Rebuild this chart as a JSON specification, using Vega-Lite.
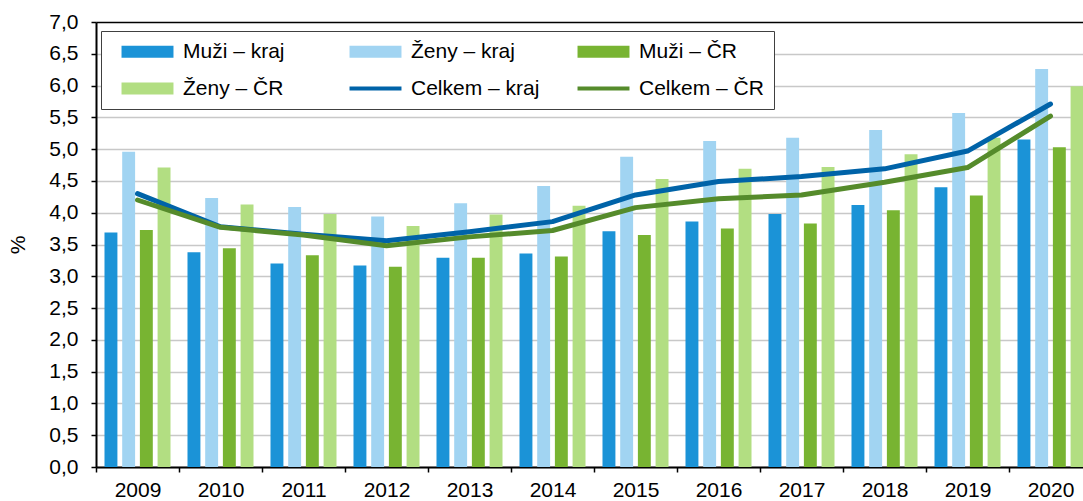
{
  "$schema": "https://vega.github.io/schema/vega-lite/v6.json",
  "width": 987,
  "height": 445,
  "autosize": {"type": "none"},
  "padding": {"left": 96, "top": 22, "right": 0, "bottom": 34},
  "background": "white",
  "config": {
    "locale": {"number": {"decimal": ",", "thousands": " ", "grouping": [3], "currency": ["", " Kč"]}},
    "font": "Liberation Sans",
    "view": {"stroke": null},
    "axis": {"labelFont": "Liberation Sans", "titleFont": "Liberation Sans", "labelColor": "black", "titleColor": "black"}
  },
  "datasets": {
    "bars": [
      {"year": "2009", "series": "Muži – kraj", "value": 3.69},
      {"year": "2009", "series": "Ženy – kraj", "value": 4.96},
      {"year": "2009", "series": "Muži – ČR", "value": 3.73},
      {"year": "2009", "series": "Ženy – ČR", "value": 4.71},
      {"year": "2010", "series": "Muži – kraj", "value": 3.38},
      {"year": "2010", "series": "Ženy – kraj", "value": 4.23},
      {"year": "2010", "series": "Muži – ČR", "value": 3.44},
      {"year": "2010", "series": "Ženy – ČR", "value": 4.13},
      {"year": "2011", "series": "Muži – kraj", "value": 3.20},
      {"year": "2011", "series": "Ženy – kraj", "value": 4.09},
      {"year": "2011", "series": "Muži – ČR", "value": 3.33},
      {"year": "2011", "series": "Ženy – ČR", "value": 3.98},
      {"year": "2012", "series": "Muži – kraj", "value": 3.17},
      {"year": "2012", "series": "Ženy – kraj", "value": 3.94},
      {"year": "2012", "series": "Muži – ČR", "value": 3.15},
      {"year": "2012", "series": "Ženy – ČR", "value": 3.79},
      {"year": "2013", "series": "Muži – kraj", "value": 3.29},
      {"year": "2013", "series": "Ženy – kraj", "value": 4.15},
      {"year": "2013", "series": "Muži – ČR", "value": 3.29},
      {"year": "2013", "series": "Ženy – ČR", "value": 3.97},
      {"year": "2014", "series": "Muži – kraj", "value": 3.36},
      {"year": "2014", "series": "Ženy – kraj", "value": 4.42},
      {"year": "2014", "series": "Muži – ČR", "value": 3.31},
      {"year": "2014", "series": "Ženy – ČR", "value": 4.11},
      {"year": "2015", "series": "Muži – kraj", "value": 3.71},
      {"year": "2015", "series": "Ženy – kraj", "value": 4.88},
      {"year": "2015", "series": "Muži – ČR", "value": 3.65},
      {"year": "2015", "series": "Ženy – ČR", "value": 4.53},
      {"year": "2016", "series": "Muži – kraj", "value": 3.86},
      {"year": "2016", "series": "Ženy – kraj", "value": 5.13},
      {"year": "2016", "series": "Muži – ČR", "value": 3.75},
      {"year": "2016", "series": "Ženy – ČR", "value": 4.69},
      {"year": "2017", "series": "Muži – kraj", "value": 3.98},
      {"year": "2017", "series": "Ženy – kraj", "value": 5.18},
      {"year": "2017", "series": "Muži – ČR", "value": 3.83},
      {"year": "2017", "series": "Ženy – ČR", "value": 4.72},
      {"year": "2018", "series": "Muži – kraj", "value": 4.12},
      {"year": "2018", "series": "Ženy – kraj", "value": 5.30},
      {"year": "2018", "series": "Muži – ČR", "value": 4.04},
      {"year": "2018", "series": "Ženy – ČR", "value": 4.92},
      {"year": "2019", "series": "Muži – kraj", "value": 4.40},
      {"year": "2019", "series": "Ženy – kraj", "value": 5.57},
      {"year": "2019", "series": "Muži – ČR", "value": 4.27},
      {"year": "2019", "series": "Ženy – ČR", "value": 5.18},
      {"year": "2020", "series": "Muži – kraj", "value": 5.15},
      {"year": "2020", "series": "Ženy – kraj", "value": 6.26},
      {"year": "2020", "series": "Muži – ČR", "value": 5.03},
      {"year": "2020", "series": "Ženy – ČR", "value": 5.99}
    ],
    "lines": [
      {"year": "2009", "series": "Celkem – kraj", "value": 4.30},
      {"year": "2010", "series": "Celkem – kraj", "value": 3.78},
      {"year": "2011", "series": "Celkem – kraj", "value": 3.66},
      {"year": "2012", "series": "Celkem – kraj", "value": 3.56},
      {"year": "2013", "series": "Celkem – kraj", "value": 3.70},
      {"year": "2014", "series": "Celkem – kraj", "value": 3.86},
      {"year": "2015", "series": "Celkem – kraj", "value": 4.28},
      {"year": "2016", "series": "Celkem – kraj", "value": 4.49},
      {"year": "2017", "series": "Celkem – kraj", "value": 4.57},
      {"year": "2018", "series": "Celkem – kraj", "value": 4.69},
      {"year": "2019", "series": "Celkem – kraj", "value": 4.97},
      {"year": "2020", "series": "Celkem – kraj", "value": 5.71},
      {"year": "2009", "series": "Celkem – ČR", "value": 4.20},
      {"year": "2010", "series": "Celkem – ČR", "value": 3.77},
      {"year": "2011", "series": "Celkem – ČR", "value": 3.65},
      {"year": "2012", "series": "Celkem – ČR", "value": 3.48},
      {"year": "2013", "series": "Celkem – ČR", "value": 3.62},
      {"year": "2014", "series": "Celkem – ČR", "value": 3.72},
      {"year": "2015", "series": "Celkem – ČR", "value": 4.08},
      {"year": "2016", "series": "Celkem – ČR", "value": 4.22},
      {"year": "2017", "series": "Celkem – ČR", "value": 4.28},
      {"year": "2018", "series": "Celkem – ČR", "value": 4.48},
      {"year": "2019", "series": "Celkem – ČR", "value": 4.71},
      {"year": "2020", "series": "Celkem – ČR", "value": 5.52}
    ]
  },
  "encoding": {
    "x": {
      "field": "year", "type": "nominal", "title": null,
      "scale": {"range": [0, 996], "paddingInner": 0, "paddingOuter": 0},
      "axis": {"labelAngle": 0, "labelFontSize": 21, "tickBand": "extent", "tickColor": "black", "tickSize": 5, "tickWidth": 1.5, "domainColor": "black", "domainWidth": 2, "labelPadding": 7, "grid": false}
    },
    "y": {
      "field": "value", "type": "quantitative", "title": "%",
      "scale": {"domain": [0, 7], "nice": false},
      "axis": {
        "values": [0, 0.5, 1, 1.5, 2, 2.5, 3, 3.5, 4, 4.5, 5, 5.5, 6, 6.5, 7],
        "format": ".1f", "labelFontSize": 21, "titleFontSize": 21, "titleFontWeight": "normal",
        "tickColor": "black", "tickSize": 5, "tickWidth": 1.5, "domainColor": "black", "domainWidth": 2,
        "labelPadding": 13, "titlePadding": 20,
        "gridColor": {"condition": {"test": "datum.value == 7", "value": "black"}, "value": "#c8c8c8"},
        "gridWidth": 1.5
      }
    }
  },
  "layer": [
    {
      "data": {"name": "bars"},
      "mark": {"type": "bar"},
      "encoding": {
        "xOffset": {"field": "series", "type": "nominal", "sort": ["Muži – kraj", "Ženy – kraj", "Muži – ČR", "Ženy – ČR"], "scale": {"paddingInner": 0.27, "paddingOuter": 0.48}},
        "color": {
          "field": "series", "type": "nominal",
          "scale": {
            "domain": ["Muži – kraj", "Ženy – kraj", "Muži – ČR", "Ženy – ČR", "Celkem – kraj", "Celkem – ČR"],
            "range": ["#1b93d7", "#a1d4f2", "#78b432", "#b2de82", "#0063a8", "#558b2b"]
          },
          "legend": {
            "title": null, "orient": "none", "legendX": 5, "legendY": 9, "columns": 3, "direction": "horizontal", "gridAlign": "all",
            "columnPadding": 27, "rowPadding": 15, "padding": 10,
            "labelFontSize": 21, "labelFont": "Liberation Sans", "labelColor": "black", "labelLimit": 0,
            "symbolType": "M-4.33,-1H4.33V1H-4.33Z", "symbolSize": 144, "symbolOffset": 26, "labelOffset": 25,
            "strokeColor": "#404040", "fillColor": "white",
            "encode": {
              "symbols": {
                "update": {
                  "shape": {"signal": "indexof(['Celkem – kraj','Celkem – ČR'], datum.value) >= 0 ? 'M-4.33,-0.33H4.33V0.33H-4.33Z' : 'M-4.33,-1H4.33V1H-4.33Z'"},
                  "fill": {"scale": "color", "field": "value"},
                  "stroke": {"value": "transparent"},
                  "strokeWidth": {"value": 0},
                  "opacity": {"value": 1},
                  "fillOpacity": {"value": 1}
                }
              }
            }
          }
        }
      }
    },
    {
      "data": {"name": "lines"},
      "mark": {"type": "line", "strokeWidth": 5, "strokeCap": "round", "strokeJoin": "round"},
      "encoding": {
        "color": {"field": "series", "type": "nominal"}
      }
    }
  ]
}
